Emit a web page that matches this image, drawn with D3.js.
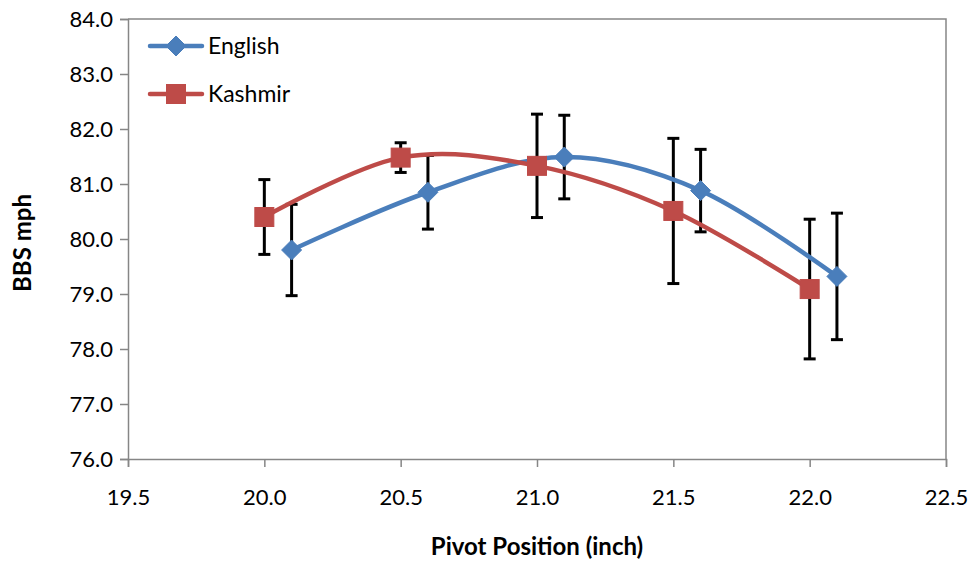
<!DOCTYPE html>
<html>
<head>
<meta charset="utf-8">
<script src="https://cdn.jsdelivr.net/npm/d3@7"></script>
<style>
  html, body { margin: 0; padding: 0; background: #fff; }
  svg text { font-family: Lato, "Open Sans", "Liberation Sans", sans-serif; fill: #000; }
</style>
</head>
<body>
<svg id="chart" width="972" height="561"></svg>
<script>
// Pivot position (inch) for each series
const englishX = [20.1, 20.6, 21.1, 21.6, 22.1];
const kashmirX = [20.0, 20.5, 21.0, 21.5, 22.0];
// Mean BBS (mph)
const englishY = [79.80, 80.85, 81.49, 80.88, 79.32];
const kashmirY = [80.40, 81.48, 81.33, 80.51, 79.09];
// Error bar half-widths (mph)
const englishErr = [0.83, 0.67, 0.76, 0.75, 1.15];
const kashmirErr = [0.68, 0.27, 0.94, 1.32, 1.27];
// Axis ticks
const xTicks = [19.5, 20.0, 20.5, 21.0, 21.5, 22.0, 22.5];
const yTicks = [76, 77, 78, 79, 80, 81, 82, 83, 84];

const svg = d3.select("#chart");
const plotLeft = 128, plotRight = 946, plotTop = 19, plotBottom = 459;

const x = d3.scaleLinear().domain([19.5, 22.5]).range([plotLeft, plotRight]);
const y = d3.scaleLinear().domain([76, 84]).range([plotBottom, plotTop]);

const axisColor = "#868686";

// plot frame (top and right edges)
svg.append("path")
  .attr("d", `M${plotLeft},${plotTop}H${plotRight}V${plotBottom}`)
  .attr("fill", "none").attr("stroke", axisColor).attr("stroke-width", 1.5);

// y axis
const yAxis = svg.append("g").attr("transform", `translate(${plotLeft},0)`)
  .call(d3.axisLeft(y).tickValues(yTicks).tickFormat(d3.format(".1f")).tickSize(8).tickPadding(7));
yAxis.select(".domain").attr("stroke", axisColor).attr("stroke-width", 1.5);
yAxis.selectAll(".tick line").attr("stroke", axisColor).attr("stroke-width", 1.5);
yAxis.selectAll(".tick text").attr("font-size", 22).style("fill", "#000");

// x axis
const xAxis = svg.append("g").attr("transform", `translate(0,${plotBottom})`)
  .call(d3.axisBottom(x).tickValues(xTicks).tickFormat(d3.format(".1f")).tickSize(8).tickPadding(22));
xAxis.select(".domain").attr("stroke", axisColor).attr("stroke-width", 1.5);
xAxis.selectAll(".tick line").attr("stroke", axisColor).attr("stroke-width", 1.5);
xAxis.selectAll(".tick text").attr("font-size", 22).style("fill", "#000");

// axis titles
svg.append("text").attr("x", 537).attr("y", 555)
  .attr("text-anchor", "middle").attr("font-size", 24).attr("font-weight", "bold")
  .text("Pivot Position (inch)");
svg.append("text")
  .attr("transform", `translate(31,243) rotate(-90)`)
  .attr("text-anchor", "middle").attr("font-size", 24).attr("font-weight", "bold")
  .text("BBS mph");

const series = [
  { name: "English", xs: englishX, ys: englishY, err: englishErr, color: "#4A7EBB", shape: "diamond" },
  { name: "Kashmir", xs: kashmirX, ys: kashmirY, err: kashmirErr, color: "#BE4B48", shape: "square" }
];

const line = d3.line().x(d => x(d[0])).y(d => y(d[1])).curve(d3.curveCardinal.tension(0));

function drawMarker(g, shape, color, cx, cy) {
  if (shape === "diamond") {
    const r = 10;
    g.append("path").attr("d", `M${cx},${cy - r}L${cx + r},${cy}L${cx},${cy + r}L${cx - r},${cy}Z`)
      .attr("fill", color).attr("stroke", color).attr("stroke-width", 1);
  } else {
    const s = 19;
    g.append("rect").attr("x", cx - s / 2).attr("y", cy - s / 2).attr("width", s).attr("height", s)
      .attr("fill", color).attr("stroke", color).attr("stroke-width", 1);
  }
}

// error bars, then lines and markers
series.forEach(s => {
  const g = svg.append("g");
  s.xs.forEach((xv, i) => {
    const cx = x(xv), y1 = y(s.ys[i] + s.err[i]), y2 = y(s.ys[i] - s.err[i]);
    g.append("line").attr("x1", cx).attr("x2", cx).attr("y1", y1).attr("y2", y2)
      .attr("stroke", "#000").attr("stroke-width", 3);
    [y1, y2].forEach(yy => g.append("line").attr("x1", cx - 6).attr("x2", cx + 6)
      .attr("y1", yy).attr("y2", yy).attr("stroke", "#000").attr("stroke-width", 3));
  });
});

series.forEach(s => {
  const g = svg.append("g");
  g.append("path").datum(s.xs.map((xv, i) => [xv, s.ys[i]]))
    .attr("d", line).attr("fill", "none").attr("stroke", s.color)
    .attr("stroke-width", 4.5).attr("stroke-linecap", "round");
  s.xs.forEach((xv, i) => drawMarker(g, s.shape, s.color, x(xv), y(s.ys[i])));
});

// legend
series.forEach((s, i) => {
  const ly = 46 + i * 48;
  const g = svg.append("g");
  g.append("line").attr("x1", 150).attr("x2", 202).attr("y1", ly).attr("y2", ly)
    .attr("stroke", s.color).attr("stroke-width", 4.5).attr("stroke-linecap", "round");
  drawMarker(g, s.shape, s.color, 176, ly);
  g.append("text").attr("x", 208).attr("y", ly).attr("dy", "0.35em")
    .attr("font-size", 23).text(s.name);
});
</script>
</body>
</html>
